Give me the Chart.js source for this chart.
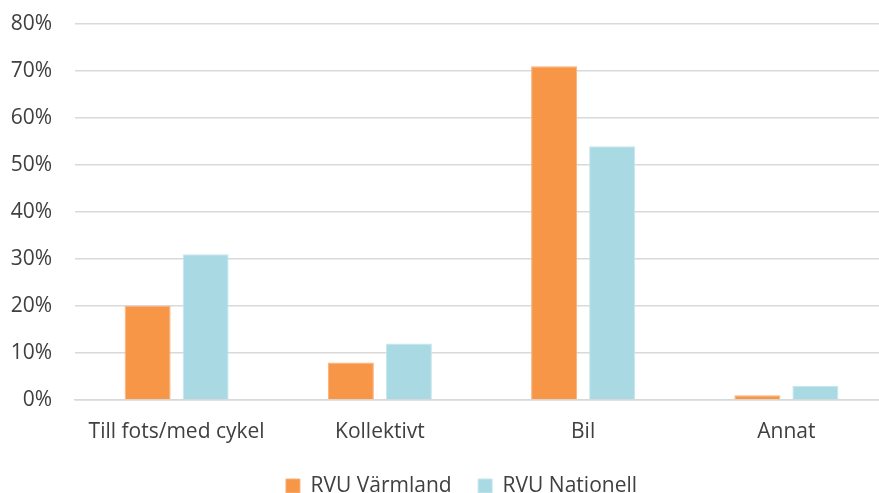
<!DOCTYPE html>
<html>
<head>
<meta charset="utf-8">
<script src="https://cdn.jsdelivr.net/npm/chart.js@4"></script>
<style>
  html, body { margin: 0; padding: 0; background: #fff; }
  #wrap { width: 879px; height: 493px; position: relative; }
</style>
</head>
<body>
<div id="wrap"><canvas id="chart"></canvas></div>
<script>
const categories = ["Till fots/med cykel", "Kollektivt", "Bil", "Annat"];
const seriesNames = ["RVU Värmland", "RVU Nationell"];
const varmland = [20, 8, 71, 1];
const nationell = [31, 12, 54, 3];
const yTicks = [0, 10, 20, 30, 40, 50, 60, 70, 80];

const textColor = "#404040";
const fontFamily = "'Open Sans', 'Liberation Sans', sans-serif";
const fontSize = 21;

// shorter legend box nudged right, and plot running a bit past the right edge
const layoutTweak = {
  id: "layoutTweak",
  afterInit(chart) {
    const fit = chart.legend.fit;
    chart.legend.fit = function () {
      fit.call(this);
      this.height = 44;
    };
  },
  afterLayout(chart) {
    chart.legend.left += 22;
    chart.legend.right += 22;
    const extra = 9;
    chart.chartArea.right += extra;
    chart.chartArea.width += extra;
    const x = chart.scales.x;
    x.right += extra;
    x.width += extra;
    x.configure();
  }
};

new Chart(document.getElementById("chart"), {
  type: "bar",
  data: {
    labels: categories,
    datasets: [
      {
        label: seriesNames[0],
        data: varmland,
        backgroundColor: "#f79646",
        borderColor: "#fbb07a",
        borderWidth: 1,
        categoryPercentage: 0.571,
        barPercentage: 0.793
      },
      {
        label: seriesNames[1],
        data: nationell,
        backgroundColor: "#a9dae4",
        borderColor: "#c4e6ee",
        borderWidth: 1,
        categoryPercentage: 0.571,
        barPercentage: 0.793
      }
    ]
  },
  options: {
    responsive: true,
    maintainAspectRatio: false,
    animation: false,
    layout: { padding: { top: 24, right: 0, left: 0, bottom: 0 } },
    plugins: {
      legend: {
        position: "bottom",
        labels: {
          color: textColor,
          font: { family: fontFamily, size: fontSize },
          boxWidth: 14,
          boxHeight: 14,
          padding: 26.5
        }
      },
      tooltip: { enabled: false }
    },
    scales: {
      x: {
        afterFit: function (scale) {
          scale.height = 49;
        },
        grid: { display: false, drawTicks: false },
        border: { color: "#d9d9d9", width: 1.5 },
        ticks: {
          color: textColor,
          font: { family: fontFamily, size: fontSize },
          padding: 19
        }
      },
      y: {
        min: 0,
        max: 80,
        afterBuildTicks: function (scale) {
          scale.ticks = yTicks.map(v => ({ value: v }));
        },
        afterFit: function (scale) {
          scale.width = 75;
          scale.paddingTop = 0;
        },
        grid: { color: "#d9d9d9", lineWidth: 1.5, drawTicks: false },
        border: { display: false },
        ticks: {
          color: textColor,
          font: { family: fontFamily, size: fontSize },
          padding: 23,
          callback: function (value) {
            return value + "%";
          }
        }
      }
    }
  },
  plugins: [layoutTweak]
});
</script>
</body>
</html>
